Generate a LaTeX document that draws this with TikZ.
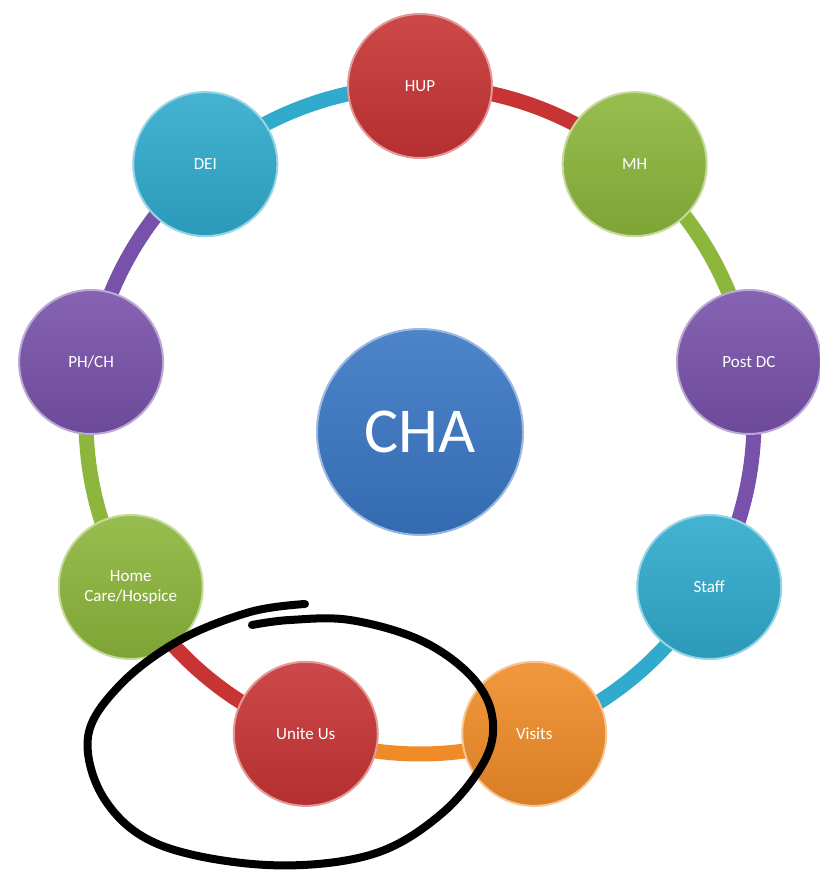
\documentclass[tikz,border=0pt]{standalone}
\usepackage{fontspec}
\newfontfamily\calfont{Carlito}
\usepackage{tikz}
\usetikzlibrary{backgrounds}
\usepackage{xcolor}

\definecolor{chared}{RGB}{200,52,52}
\definecolor{chagreen}{RGB}{141,182,60}
\definecolor{chapurple}{RGB}{120,82,170}
\definecolor{chateal}{RGB}{48,170,205}
\definecolor{chaorange}{RGB}{240,140,40}
\definecolor{chablue}{RGB}{58,118,196}

\tikzset{
  ball/.style={circle, top color=#1!90!white, bottom color=#1!90!black,
    draw=#1!50!white, line width=2pt,
    minimum size=144pt, inner sep=0pt, text=white, align=center,
    font=\calfont\fontsize{17}{20}\selectfont},
  link/.style={draw=#1, line width=15pt},
  hand/.style={draw=black, line width=8pt, line cap=round, line join=round},
}

\begin{document}
\begin{tikzpicture}[x=1pt,y=1pt]
  \useasboundingbox (0,0) rectangle (819,872);
  \coordinate (ring) at (420,452);

  \node[ball=chared]    (hup)   at ([shift={(90:334)}]ring)   {HUP};
  \node[ball=chagreen]  (mh)    at ([shift={(50:334)}]ring)   {MH};
  \node[ball=chapurple] (postdc) at ([shift={(10:334)}]ring)  {Post DC};
  \node[ball=chateal]   (staff) at ([shift={(-30:334)}]ring)  {Staff};
  \node[ball=chaorange] (visits) at ([shift={(-70:334)}]ring) {Visits};
  \node[ball=chared]    (unite) at ([shift={(-110:334)}]ring) {Unite Us};
  \node[ball=chagreen]  (home)  at ([shift={(-150:334)}]ring) {Home\\Care/Hospice};
  \node[ball=chapurple] (phch)  at ([shift={(170:334)}]ring)  {PH/CH};
  \node[ball=chateal]   (dei)   at ([shift={(130:334)}]ring)  {DEI};

  \node[ball=chablue, minimum size=206pt,
    font=\calfont\fontsize{64}{70}\selectfont] (cha) at (420,440) {CHA};

  % ring links, behind the balls
  \begin{scope}[on background layer]
    \draw[link=chared]    (hup.center)    arc[start angle=90,   end angle=50,   radius=334];
    \draw[link=chagreen]  (mh.center)     arc[start angle=50,   end angle=10,   radius=334];
    \draw[link=chapurple] (postdc.center) arc[start angle=10,   end angle=-30,  radius=334];
    \draw[link=chateal]   (staff.center)  arc[start angle=-30,  end angle=-70,  radius=334];
    \draw[link=chaorange] (visits.center) arc[start angle=-70,  end angle=-110, radius=334];
    \draw[link=chared]    (unite.center)  arc[start angle=-110, end angle=-150, radius=334];
    \draw[link=chagreen]  (home.center)   arc[start angle=-150, end angle=-190, radius=334];
    \draw[link=chapurple] (phch.center)   arc[start angle=170,  end angle=130,  radius=334];
    \draw[link=chateal]   (dei.center)    arc[start angle=130,  end angle=90,   radius=334];
  \end{scope}

  % hand drawn loop round Unite Us
  \draw[hand] plot[smooth, tension=0.6] coordinates {
    (305,268) (250,260) (180,232) (120,187) (88,135) (105,72) (160,27)
    (267,7) (370,17) (440,57) (485,112) (492,157) (470,197) (420,232)
    (350,252) (290,252) (252,247)};
\end{tikzpicture}
\end{document}
